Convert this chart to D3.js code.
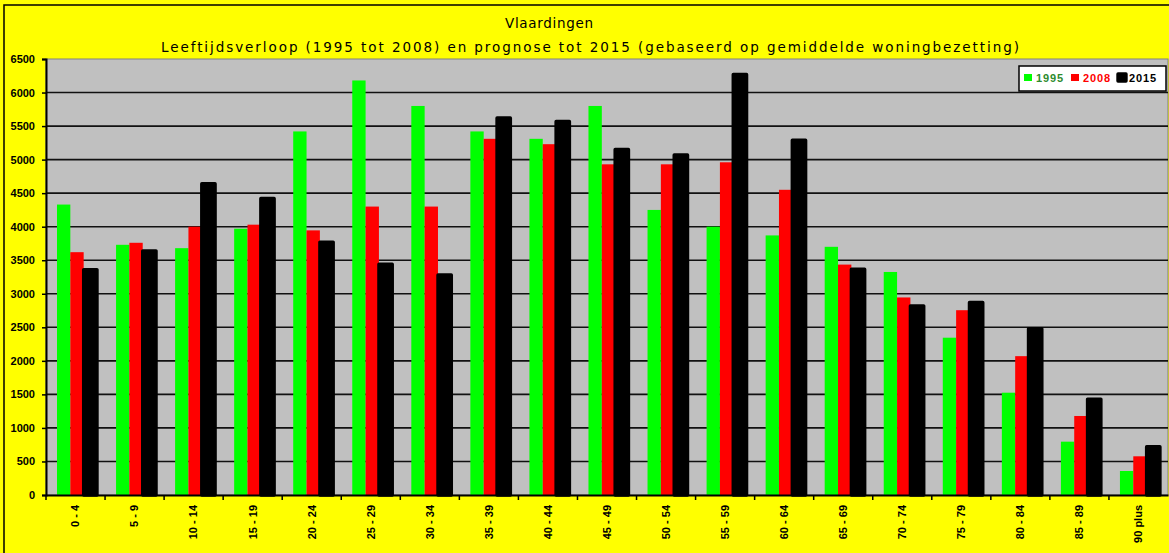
<!DOCTYPE html>
<html>
<head>
<meta charset="utf-8">
<script src="https://cdn.jsdelivr.net/npm/d3@7"></script>
<style>
  body { margin: 0; background: #ffff00; }
  svg { display: block; font-family: "Liberation Sans", Arial, sans-serif; }
</style>
</head>
<body>
<svg width="1169" height="553"></svg>
<script>
// age groups
const categories = ["0 - 4", "5 - 9", "10 - 14", "15 - 19", "20 - 24", "25 - 29", "30 - 34", "35 - 39", "40 - 44",
  "45 - 49", "50 - 54", "55 - 59", "60 - 64", "65 - 69", "70 - 74", "75 - 79", "80 - 84", "85 - 89", "90 plus"];
const seriesNames = ["1995", "2008", "2015"];
const values1995 = [4330, 3730, 3680, 3970, 5420, 6180, 5800, 5420, 5310, 5800, 4250, 4000, 3870, 3700, 3325, 2345, 1525, 795, 358];
const values2008 = [3620, 3760, 4000, 4030, 3945, 4300, 4300, 5310, 5230, 4930, 4930, 4960, 4550, 3435, 2945, 2755, 2070, 1178, 577];
const values2015 = [3360, 3640, 4640, 4420, 3770, 3440, 3280, 5620, 5570, 5150, 5070, 6270, 5290, 3365, 2820, 2870, 2480, 1430, 720];
const yTicks = [0, 500, 1000, 1500, 2000, 2500, 3000, 3500, 4000, 4500, 5000, 5500, 6000, 6500];
const seriesColors = ["#00ff00", "#ff0000", "#000000"];
const legendTextColors = ["#2e8b2e", "#ff0000", "#000000"];

let svg = d3.select("svg");
let W = 1169, H = 553;
let plot = {left: 46, right: 1168, top: 59, bottom: 495};

// background + outer frame
svg.append("rect").attr("x", 0).attr("y", 0).attr("width", W).attr("height", H).attr("fill", "#ffff00");
svg.append("rect").attr("x", 4).attr("y", 5).attr("width", W + 10).attr("height", H + 10)
  .attr("fill", "none").attr("stroke", "#000").attr("stroke-width", 1.5);

// titles
svg.append("text").attr("x", 549).attr("y", 28).attr("text-anchor", "middle")
  .attr("font-family", "'DejaVu Sans', sans-serif")
  .attr("font-size", 13.5).attr("textLength", 88).attr("lengthAdjust", "spacing")
  .text("Vlaardingen");
svg.append("text").attr("x", 590).attr("y", 52).attr("text-anchor", "middle")
  .attr("font-family", "'DejaVu Sans', sans-serif")
  .attr("font-size", 13.5).attr("textLength", 858).attr("lengthAdjust", "spacing")
  .text("Leeftijdsverloop (1995 tot 2008) en prognose tot 2015 (gebaseerd op gemiddelde woningbezetting)");

let x0 = d3.scaleBand().domain(categories).range([plot.left, plot.right]);
let x1 = d3.scaleBand().domain(seriesNames).range([11, 51]);
let y = d3.scaleLinear().domain([0, 6500]).range([plot.bottom, plot.top]);

// plot area
svg.append("rect").attr("x", plot.left).attr("y", plot.top)
  .attr("width", plot.right - plot.left).attr("height", plot.bottom - plot.top)
  .attr("fill", "#c0c0c0").attr("stroke", "#808080").attr("stroke-width", 1);

// gridlines
svg.append("g").selectAll("line")
  .data(yTicks.filter(t => t > 0 && t < 6500))
  .enter().append("line")
  .attr("x1", plot.left).attr("x2", plot.right)
  .attr("y1", d => y(d)).attr("y2", d => y(d))
  .attr("stroke", "#111").attr("stroke-width", 1.6);

// bars
let rows = categories.map((c, i) => ({cat: c, vals: [values1995[i], values2008[i], values2015[i]]}));
let groups = svg.append("g").selectAll("g")
  .data(rows)
  .enter().append("g")
  .attr("transform", d => "translate(" + x0(d.cat) + ",0)");

groups.selectAll("rect")
  .data(d => d.vals.map((v, k) => ({key: seriesNames[k], value: v, k: k})))
  .enter().append("rect")
  .attr("x", d => x1(d.key))
  .attr("y", d => y(d.value))
  .attr("width", x1.bandwidth())
  .attr("height", d => y(0) - y(d.value))
  .attr("fill", d => seriesColors[d.k])
  .attr("stroke", d => d.k == 2 ? "#000" : "none")
  .attr("stroke-width", 3.4)
  .attr("stroke-linejoin", "round");

// y axis
let yAxis = svg.append("g")
  .attr("transform", "translate(" + plot.left + ",0)")
  .call(d3.axisLeft(y).tickValues(yTicks).tickFormat(d3.format("d")).tickSize(4).tickPadding(7));
yAxis.select(".domain").attr("stroke", "#000").attr("stroke-width", 2);
yAxis.selectAll(".tick line").attr("stroke", "#000").attr("stroke-width", 1.5);
yAxis.selectAll("text")
  .attr("font-family", "'Liberation Sans', Arial, sans-serif")
  .attr("font-size", 11).attr("font-weight", "bold").attr("fill", "#000");

// x axis
let xAxis = svg.append("g")
  .attr("transform", "translate(0," + plot.bottom + ")")
  .call(d3.axisBottom(x0).tickSize(0).tickPadding(0));
xAxis.select(".domain").attr("stroke", "#000").attr("stroke-width", 2);
xAxis.selectAll("text")
  .attr("font-family", "'Liberation Sans', Arial, sans-serif")
  .attr("font-size", 11).attr("font-weight", "bold").attr("fill", "#000")
  .style("text-anchor", "end")
  .attr("transform", "rotate(-90)")
  .attr("x", -10).attr("y", 0).attr("dy", "0.35em");
// tick marks at category boundaries
svg.append("g").selectAll("line")
  .data(categories)
  .enter().append("line")
  .attr("x1", d => x0(d)).attr("x2", d => x0(d))
  .attr("y1", plot.bottom).attr("y2", plot.bottom + 5)
  .attr("stroke", "#000").attr("stroke-width", 1.5);

// legend
let legend = svg.append("g").attr("transform", "translate(1019,66)");
legend.append("rect").attr("x", 0).attr("y", 0).attr("width", 147).attr("height", 25)
  .attr("fill", "#fff").attr("stroke", "#000").attr("stroke-width", 1.5);
let items = legend.selectAll(".item")
  .data(seriesNames)
  .enter().append("g")
  .attr("class", "item")
  .attr("transform", (d, i) => "translate(" + (5 + i * 47) + ",0)");
items.append("rect")
  .attr("x", 0).attr("y", 8).attr("width", 8).attr("height", 7)
  .attr("fill", (d, i) => seriesColors[i])
  .attr("stroke", (d, i) => i == 2 ? "#000" : "none")
  .attr("stroke-width", 3.4).attr("stroke-linejoin", "round");
items.append("text")
  .attr("x", (d, i) => i == 2 ? 11 : 12).attr("y", 16)
  .attr("font-size", 11).attr("font-weight", "bold")
  .attr("fill", (d, i) => legendTextColors[i])
  .attr("textLength", 27).attr("lengthAdjust", "spacing")
  .text(d => d);
</script>
</body>
</html>
